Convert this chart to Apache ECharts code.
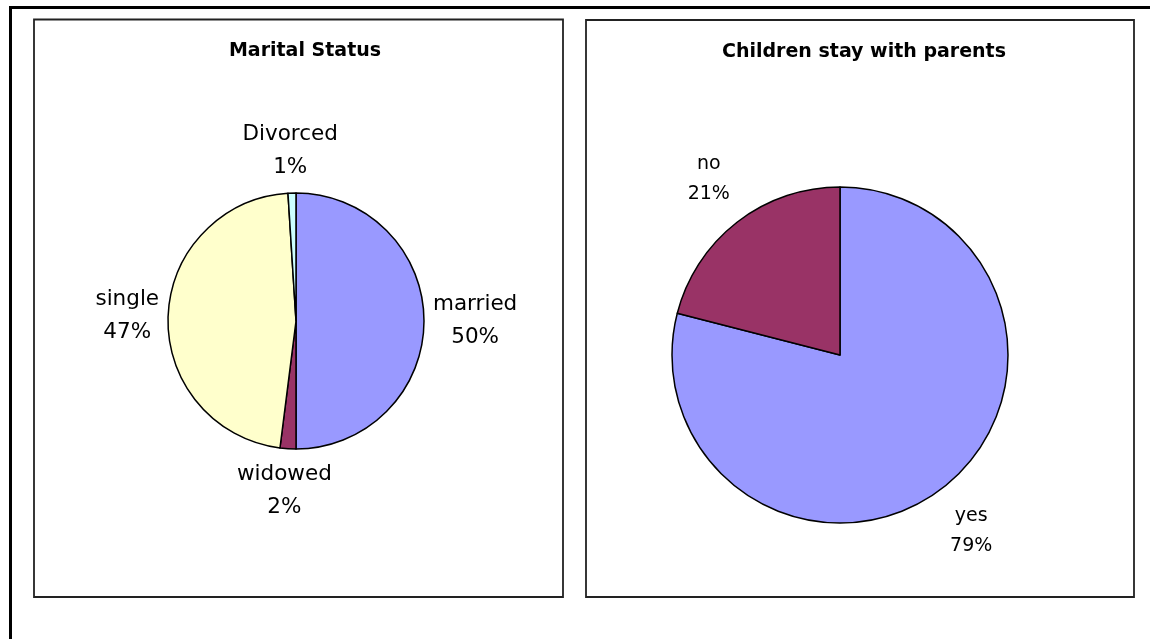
<!DOCTYPE html>
<html>
<head>
<meta charset="utf-8">
<script src="https://cdn.jsdelivr.net/npm/echarts@6/dist/echarts.min.js"></script>
<style>
html,body{margin:0;padding:0;background:#fff;}
#chart{width:1163px;height:639px;}
</style>
</head>
<body>
<div id="chart"></div>
<script>
// ---- data ----
const maritalCategories = ['married', 'widowed', 'single', 'Divorced'];
const maritalValues = [50, 2, 47, 1];
const childrenCategories = ['yes', 'no'];
const childrenValues = [79, 21];
const titles = ['Marital Status', 'Children stay with parents'];
const maritalColors = ['#9999FF', '#993366', '#FFFFCC', '#CCFFFF'];
const childrenColors = ['#9999FF', '#993366'];

// ---- layout ----
const leftPie = { cx: 296, cy: 321, r: 128, gap: 9 };
const rightPie = { cx: 840, cy: 355, r: 168, gap: 25 };

// Excel-like outside label placement: box pushed out along the slice's mid-angle
function makeLabelLayout(pie, values) {
  const total = values.reduce((a, b) => a + b, 0);
  const mids = [];
  let acc = 0;
  values.forEach(v => { mids.push((acc + v / 2) / total * Math.PI * 2); acc += v; });
  return function (params) {
    const a = mids[params.dataIndex];
    const dx = Math.sin(a), dy = -Math.cos(a);
    const w = params.labelRect.width, h = params.labelRect.height;
    const R = pie.r + pie.gap;
    return {
      x: pie.cx + dx * R + dx * w / 2,
      y: pie.cy + dy * R + dy * h / 2,
      align: 'center',
      verticalAlign: 'middle'
    };
  };
}

const chart = echarts.init(document.getElementById('chart'), null, { renderer: 'canvas' });
const FONT = 'DejaVu Sans';

const option = {
  backgroundColor: '#ffffff',
  animation: false,
  title: [
    { text: titles[0], left: 300, top: 36, textAlign: 'center',
      textStyle: { fontFamily: FONT, fontSize: 19, fontWeight: 'bold', color: '#000', lineHeight: 20 } },
    { text: titles[1], left: 859, top: 37, textAlign: 'center',
      textStyle: { fontFamily: FONT, fontSize: 19, fontWeight: 'bold', color: '#000', lineHeight: 20 } }
  ],
  graphic: [
    { type: 'polyline', silent: true, shape: { points: [[10.5, 639], [10.5, 7.5], [1150, 7.5]] },
      style: { stroke: '#000', lineWidth: 3, fill: null } },
    { type: 'rect', silent: true, shape: { x: 34, y: 19.5, width: 529, height: 577.5 },
      style: { stroke: '#222', lineWidth: 1.8, fill: null } },
    { type: 'rect', silent: true, shape: { x: 586, y: 20, width: 548, height: 577 },
      style: { stroke: '#222', lineWidth: 1.8, fill: null } }
  ],
  series: [
    {
      type: 'pie',
      center: [leftPie.cx, leftPie.cy],
      radius: leftPie.r,
      startAngle: 90,
      clockwise: true,
      percentPrecision: 0,
      avoidLabelOverlap: false,
      data: maritalCategories.map((c, i) => ({ name: c, value: maritalValues[i], itemStyle: { color: maritalColors[i] } })),
      itemStyle: { borderColor: '#000', borderWidth: 1.5 },
      label: { show: true, position: 'outside', formatter: '{b}\n{d}%',
        fontFamily: FONT, fontSize: 21.5, lineHeight: 33, color: '#000', align: 'center' },
      labelLine: { show: false },
      labelLayout: makeLabelLayout(leftPie, maritalValues),
      emphasis: { disabled: true }
    },
    {
      type: 'pie',
      center: [rightPie.cx, rightPie.cy],
      radius: rightPie.r,
      startAngle: 90,
      clockwise: true,
      percentPrecision: 0,
      avoidLabelOverlap: false,
      data: childrenCategories.map((c, i) => ({ name: c, value: childrenValues[i], itemStyle: { color: childrenColors[i] } })),
      itemStyle: { borderColor: '#000', borderWidth: 1.5 },
      label: { show: true, position: 'outside', formatter: '{b}\n{d}%',
        fontFamily: FONT, fontSize: 19, lineHeight: 30, color: '#000', align: 'center' },
      labelLine: { show: false },
      labelLayout: makeLabelLayout(rightPie, childrenValues),
      emphasis: { disabled: true }
    }
  ]
};
chart.setOption(option);
</script>
</body>
</html>
